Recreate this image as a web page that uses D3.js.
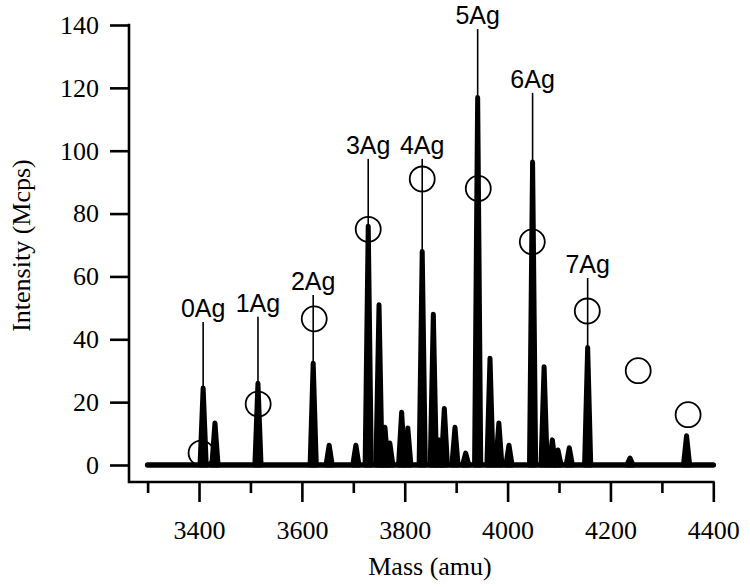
<!DOCTYPE html>
<html>
<head>
<meta charset="utf-8">
<script src="https://cdn.jsdelivr.net/npm/d3@7"></script>
<style>
  html, body { margin: 0; padding: 0; background: #fff; }
  svg { display: block; }
</style>
</head>
<body>
<svg id="chart" width="750" height="587"></svg>
<script>
// ---- Data ----
// Spectrum peaks: mass (amu) and intensity (Mcps)
const peakMass = [3408, 3431, 3514.6, 3622, 3653, 3705, 3729, 3750, 3761.5, 3771, 3794, 3806,
                  3834, 3855.6, 3867, 3877, 3897.7, 3918.5, 3941.8, 3965.8, 3983, 4002.7,
                  4048.6, 4071, 4087, 4098, 4120, 4155.7, 4238, 4348];
const peakIntensity = [24.5, 13.4, 26, 32.4, 6.3, 6.3, 76, 51, 12, 7, 16.8, 11.8,
                       67.9, 48, 8, 18, 12, 3.8, 116.9, 34, 13.4, 6.3,
                       96.4, 31.3, 8, 4.8, 5.5, 37.4, 2.2, 9.3];

// Open circles (calculated distribution)
const circleMass = [3404, 3515, 3624, 3729, 3834, 3943, 4048, 4155, 4254, 4351];
const circleIntensity = [3.8, 19.4, 46.5, 75, 91, 88, 71, 49, 30, 16];

// Cluster labels and where their leader lines sit
const labelText = ["0Ag", "1Ag", "2Ag", "3Ag", "4Ag", "5Ag", "6Ag", "7Ag"];
const labelMass = [3408, 3514.6, 3622, 3729, 3834, 3941.8, 4048.6, 4155.7];
const labelTop = [45.5, 47.2, 54.1, 97.4, 97.4, 138.7, 118.4, 59.5];
const labelPeak = [24.5, 26, 32.4, 76, 67.9, 116.9, 96.4, 37.4];

// Axes
const xDomain = [3300, 4400];
const yDomain = [0, 140];
const xMajorTicks = [3400, 3600, 3800, 4000, 4200, 4400];
const xMinorTicks = [3300, 3500, 3700, 3900, 4100, 4300];
const yTicks = [0, 20, 40, 60, 80, 100, 120, 140];
const xTitle = "Mass (amu)";
const yTitle = "Intensity (Mcps)";

// ---- Layout ----
const svg = d3.select("#chart");
const x = d3.scaleLinear().domain(xDomain).range([147.6, 713.3]);
const y = d3.scaleLinear().domain(yDomain).range([465, 25]);
const axisX = 129;   // y-axis line position
const axisY = 482;   // x-axis line position
const serif = "'Liberation Serif', 'Times New Roman', serif";
const sans = "'Liberation Sans', Arial, sans-serif";

// Y axis
const gy = svg.append("g").attr("transform", `translate(${axisX},0)`)
  .call(d3.axisLeft(y).tickValues(yTicks).tickSize(19).tickPadding(11).tickFormat(d3.format("d")));
gy.select(".domain").remove();
gy.selectAll(".tick line").attr("stroke", "#000").attr("stroke-width", 2.6);
gy.selectAll(".tick text").attr("font-family", serif).attr("font-size", 26).attr("fill", "#000");

// X axis (major)
const gx = svg.append("g").attr("transform", `translate(0,${axisY})`)
  .call(d3.axisBottom(x).tickValues(xMajorTicks).tickSize(20).tickFormat(d3.format("d")));
gx.select(".domain").remove();
gx.selectAll(".tick line").attr("stroke", "#000").attr("stroke-width", 2.6);
gx.selectAll(".tick text").attr("font-family", serif).attr("font-size", 26).attr("fill", "#000")
  .attr("y", 57).attr("dy", 0);

// X axis (minor)
const gxm = svg.append("g").attr("transform", `translate(0,${axisY})`)
  .call(d3.axisBottom(x).tickValues(xMinorTicks).tickSize(11).tickFormat(""));
gxm.select(".domain").remove();
gxm.selectAll(".tick line").attr("stroke", "#000").attr("stroke-width", 2.6);

// Axis lines
svg.append("path")
  .attr("d", `M${axisX},${y(yDomain[1])}V${axisY}H${x(xDomain[1])}`)
  .attr("fill", "none").attr("stroke", "#000").attr("stroke-width", 2.6)
  .attr("stroke-linecap", "square");

// Titles
svg.append("text").attr("x", 430).attr("y", 575).attr("text-anchor", "middle")
  .attr("font-family", serif).attr("font-size", 26).attr("fill", "#000").text(xTitle);
svg.append("text").attr("transform", "translate(30,245.5) rotate(-90)").attr("text-anchor", "middle")
  .attr("font-family", serif).attr("font-size", 26).attr("fill", "#000").text(yTitle);

// Baseline of the spectrum
svg.append("line")
  .attr("x1", x(xDomain[0])).attr("x2", x(xDomain[1]))
  .attr("y1", y(0)).attr("y2", y(0))
  .attr("stroke", "#000").attr("stroke-width", 5.5).attr("stroke-linecap", "round");

// Peaks
const halfWidthAmu = 6;
const peaks = peakMass.map((m, i) => ({ m, h: peakIntensity[i] }));
svg.append("g").selectAll("path").data(peaks).join("path")
  .attr("d", d => `M${x(d.m - halfWidthAmu)},${y(0)}L${x(d.m)},${y(d.h)}L${x(d.m + halfWidthAmu)},${y(0)}Z`)
  .attr("fill", "#000").attr("stroke", "#000").attr("stroke-width", 5)
  .attr("stroke-linejoin", "round");

// Leader lines and labels
const labels = labelText.map((t, i) => ({ t, m: labelMass[i], top: labelTop[i], peak: labelPeak[i] }));
svg.append("g").selectAll("line").data(labels).join("line")
  .attr("x1", d => x(d.m)).attr("x2", d => x(d.m))
  .attr("y1", d => y(d.top)).attr("y2", d => y(d.peak))
  .attr("stroke", "#000").attr("stroke-width", 1.6);
svg.append("g").selectAll("text").data(labels).join("text")
  .attr("x", d => x(d.m)).attr("y", d => y(d.top) - 5)
  .attr("text-anchor", "middle").attr("font-family", sans).attr("font-size", 25)
  .attr("fill", "#000").text(d => d.t);

// Open circles
const circles = circleMass.map((m, i) => ({ m, v: circleIntensity[i] }));
svg.append("g").selectAll("circle").data(circles).join("circle")
  .attr("cx", d => x(d.m)).attr("cy", d => y(d.v)).attr("r", 12.5)
  .attr("fill", "none").attr("stroke", "#000").attr("stroke-width", 1.8);
</script>
</body>
</html>
